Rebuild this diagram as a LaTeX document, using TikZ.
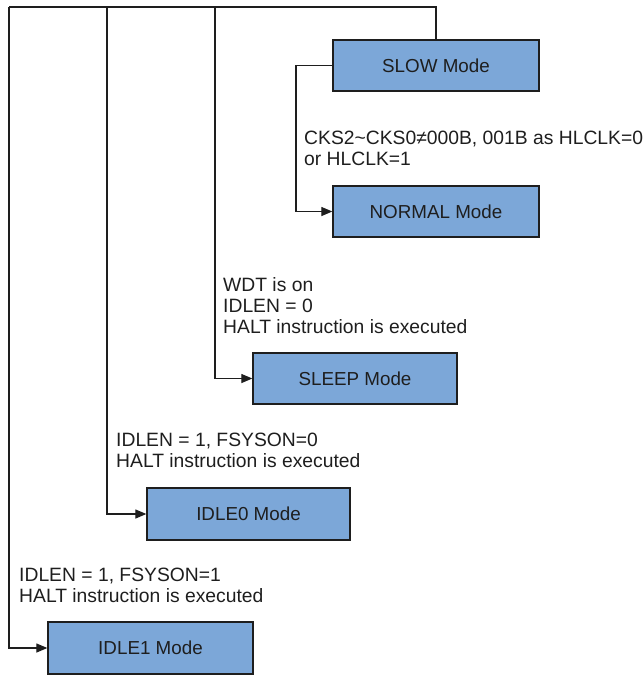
\documentclass[tikz,border=0pt]{standalone}
\usepackage{fontspec}
\setmainfont{Liberation Sans}
\usetikzlibrary{arrows.meta}
\definecolor{boxblue}{RGB}{124,167,216}
\definecolor{ink}{RGB}{30,30,30}
\tikzset{
  modebox/.style={draw=ink, line width=1.3pt, fill=boxblue, rectangle, inner sep=0pt,
    text=ink, font=\fontsize{18.8}{20.8}\selectfont},
  conn/.style={draw=ink, line width=1.2pt},
  arr/.style={conn, -{Triangle[length=11pt,width=9pt]}},
  lbl/.style={anchor=base west, inner sep=0pt, align=left, text=ink,
    font=\fontsize{19.3}{20.8}\selectfont}
}
\begin{document}
\begin{tikzpicture}[x=1pt,y=-1pt]
\useasboundingbox (0,0) rectangle (643,675);
% boxes
\node[modebox, minimum width=206pt, minimum height=51pt] (slow) at (436,65.5) {SLOW Mode};
\node[modebox, minimum width=206pt, minimum height=51pt] (normal) at (436,211.5) {NORMAL Mode};
\node[modebox, minimum width=204pt, minimum height=51pt] (sleep) at (355,378.5) {SLEEP Mode};
\node[modebox, minimum width=203pt, minimum height=52pt] (idle0) at (248.5,514) {IDLE0 Mode};
\node[modebox, minimum width=205pt, minimum height=52pt] (idle1) at (150.5,648) {IDLE1 Mode};
% labels (anchor = baseline of the last line)
\node[lbl] (lcks) at (304,165) {CKS2\textasciitilde CKS0≠000B, 001B as HLCLK=0\\or HLCLK=1};
\node[lbl] (lsleep) at (223,333) {WDT is on\\IDLEN = 0\\HALT instruction is executed};
\node[lbl] (lidle0) at (116,467) {IDLEN = 1, FSYSON=0\\HALT instruction is executed};
\node[lbl] (lidle1) at (19,602) {IDLEN = 1, FSYSON=1\\HALT instruction is executed};
% connectors
\coordinate (t0) at (9,7);
\coordinate (t1) at (107,7);
\coordinate (t2) at (215,7);
\coordinate (c1) at (296,65.5);
\draw[conn] (slow.north) |- (t0);
\draw[arr] (t0) |- (idle1.west);
\draw[arr] (t1) |- (idle0.west);
\draw[arr] (t2) |- (sleep.west);
\draw[arr] (slow.west) -- (c1) |- (normal.west);
\end{tikzpicture}
\end{document}
